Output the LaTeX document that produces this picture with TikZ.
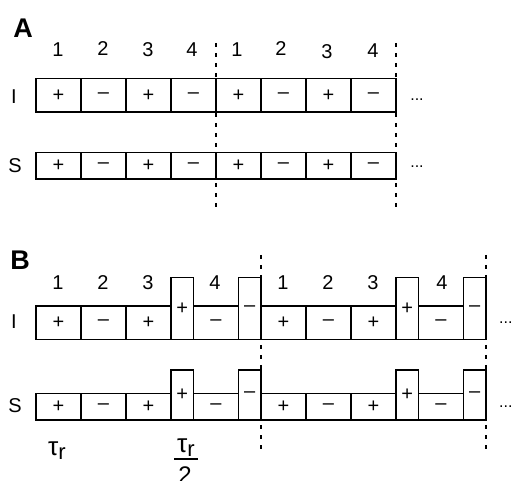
\documentclass[tikz,border=0pt]{standalone}
\usepackage{fontspec}
\setmainfont{Liberation Sans}
\begin{document}
\begin{tikzpicture}[x=1pt,y=-1pt,
  cell/.style={draw, line width=1.5pt, inner sep=0pt, minimum width=45pt, font=\fontsize{20}{20}\selectfont},
  num/.style={inner sep=0pt, font=\fontsize{20}{20}\selectfont},
  rowlab/.style={inner sep=0pt, font=\fontsize{20}{20}\selectfont},
  panel/.style={inner sep=0pt, font=\fontsize{27}{27}\selectfont\bfseries},
  dots/.style={inner sep=0pt, font=\fontsize{16}{16}\selectfont},
  sep/.style={line width=1.6pt, dash pattern=on 4pt off 6pt}]
\useasboundingbox (0,0) rectangle (512,481);
% Panel A
\node[panel] (A) at (23,28) {A};
\foreach \i/\x/\y in {1/58/50,2/103/49,3/148/50,4/192/50,5/237/50,6/281/49,7/327/52,8/373/51}
  \node[num] (An\i) at (\x,\y) {\pgfmathparse{int(mod(\i-1,4)+1)}\pgfmathresult};
\node[rowlab] (AIl) at (14,97) {I};
\node[rowlab] (ASl) at (15,166) {S};
\foreach \i/\s in {1/+,2/–,3/+,4/–,5/+,6/–,7/+,8/–}{
  \node[cell, minimum height=33.3pt] (AI\i) at ({36+45*(\i-0.5)},95.3) {\s};
  \node[cell, minimum height=26.7pt] (AS\i) at ({36+45*(\i-0.5)},165.7) {\s};
}
\node[dots] (AId) at (417,100) {...};
\node[dots] (ASd) at (417,167) {...};
\coordinate (Ad1t) at (216,43); \coordinate (Ad1b) at (216,210);
\coordinate (Ad2t) at (396,43); \coordinate (Ad2b) at (396,210);
\draw[sep] (Ad1t) -- (Ad1b);
\draw[sep] (Ad2t) -- (Ad2b);
% Panel B
\node[panel] (B) at (20,260) {B};
\foreach \i/\x in {1/58,2/103,3/148,4/215,5/283,6/328,7/373,8/442}
  \node[num] (Bn\i) at (\x,283) {\pgfmathparse{int(mod(\i-1,4)+1)}\pgfmathresult};
\node[rowlab] (BIl) at (14,322) {I};
\node[rowlab] (BSl) at (15,406) {S};
\foreach \i/\l/\w/\s/\t in {1/36/45/+/0,2/81/45/–/0,3/126/45/+/0,4/171/22.5/+/1,5/193.5/45/–/0,6/238.5/22.5/–/1,
  7/261/45/+/0,8/306/45/–/0,9/351/45/+/0,10/396/22.5/+/1,11/418.5/45/–/0,12/463.5/22.5/–/1}{
  \ifnum\t=1
    \node[cell, minimum width=\w pt, minimum height=61.6pt] (BI\i) at ({\l+\w/2},308.5) {\s};
    \node[cell, minimum width=\w pt, minimum height=50pt] (BS\i) at ({\l+\w/2},395) {\s};
  \else
    \node[cell, minimum width=\w pt, minimum height=33.3pt] (BI\i) at ({\l+\w/2},322.65) {\s};
    \node[cell, minimum width=\w pt, minimum height=26.7pt] (BS\i) at ({\l+\w/2},406.65) {\s};
  \fi
}
\node[dots, anchor=west] (BId) at (499,323) {...};
\node[dots, anchor=west] (BSd) at (499,407) {...};
\coordinate (Bd1t) at (261,255); \coordinate (Bd1b) at (261,453);
\coordinate (Bd2t) at (486,255); \coordinate (Bd2b) at (486,453);
\draw[sep] (Bd1t) -- (Bd1b);
\draw[sep] (Bd2t) -- (Bd2b);
\node[inner sep=0pt, anchor=base west] (tau1) at (48,455) {\fontsize{26}{26}\selectfont τ\raisebox{-4pt}{\fontsize{22}{22}\selectfont r}};
\node[inner sep=0pt, anchor=base] (tau2) at (186,452) {\fontsize{26}{26}\selectfont τ\raisebox{-4pt}{\fontsize{22}{22}\selectfont r}};
\coordinate (fl) at (174,459); \coordinate (fr) at (198,459);
\draw[line width=1.4pt] (fl) -- (fr);
\node[inner sep=0pt, anchor=base] (two) at (185,483) {\fontsize{24}{24}\selectfont 2};
\end{tikzpicture}
\end{document}
